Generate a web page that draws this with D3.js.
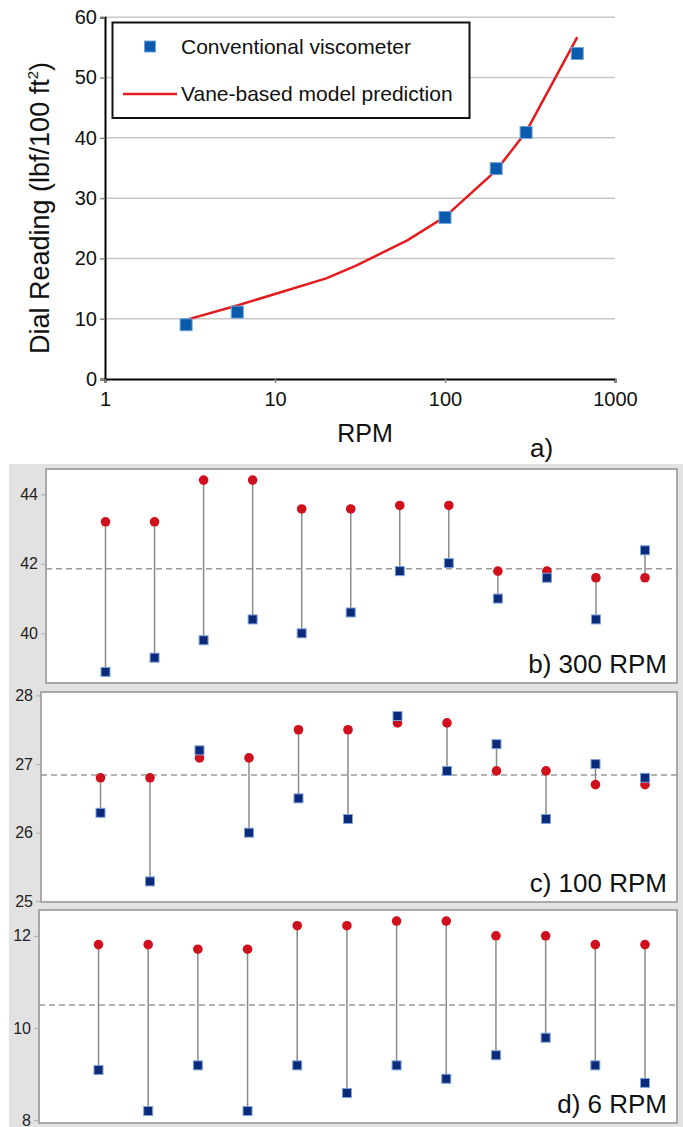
<!DOCTYPE html>
<html lang="en">
<head>
  <meta charset="UTF-8">
  <title>Dial reading vs RPM</title>
  <style>
    body { margin: 0; background: #fff; }
    svg { display: block; font-family: "Liberation Sans", Arial, sans-serif; }
  </style>
</head>
<body>
<div class="chart"></div>
<script src="https://d3js.org/d3.v7.min.js"></script>
<script>
  // a) dial reading vs rpm
  let rpm = [3, 6, 100, 200, 300, 600]
  let viscometer = [9.0, 11.1, 26.8, 34.9, 40.9, 54.0]
  let modelRpm = [3, 6, 10, 20, 30, 60, 100, 200, 300, 600]
  let modelPred = [9.8, 12.2, 14.1, 16.7, 18.8, 23.0, 26.9, 34.6, 41.0, 56.7]
  let xTicks = [1, 10, 100, 1000]
  let yTicks = [0, 10, 20, 30, 40, 50, 60]

  // b-d) samples 1..12, red = vane model, blue = viscometer
  let samples = [1, 2, 3, 4, 5, 6, 7, 8, 9, 10, 11, 12]
  let red300 = [43.21, 43.21, 44.41, 44.41, 43.58, 43.58, 43.68, 43.68, 41.79, 41.79, 41.6, 41.6]
  let blue300 = [38.89, 39.3, 39.8, 40.4, 40.0, 40.6, 41.79, 42.02, 41.0, 41.6, 40.4, 42.39]
  let red100 = [26.8, 26.8, 27.09, 27.09, 27.5, 27.5, 27.6, 27.6, 26.9, 26.9, 26.7, 26.7]
  let blue100 = [26.29, 25.29, 27.2, 26.0, 26.5, 26.2, 27.7, 26.9, 27.29, 26.2, 27.0, 26.8]
  let red6 = [11.81, 11.81, 11.71, 11.71, 12.22, 12.22, 12.32, 12.32, 12.0, 12.0, 11.81, 11.81]
  let blue6 = [9.09, 8.2, 9.19, 8.2, 9.19, 8.59, 9.19, 8.9, 9.41, 9.79, 9.19, 8.81]
  let means = [41.86, 26.84, 10.5]
  let panelTicks = [[40, 42, 44], [25, 26, 27, 28], [8, 10, 12]]
  let panelLabels = ['b) 300 RPM', 'c) 100 RPM', 'd) 6 RPM']

  let svg = d3.select('.chart').append('svg')
    .attr('width', 683)
    .attr('height', 1127)

  // ---------- top chart ----------
  let x = d3.scaleLog().domain([1, 1000]).range([105, 615])
  let y = d3.scaleLinear().domain([0, 60]).range([379, 17.3])

  svg.append('g').selectAll('line')
    .data(yTicks.slice(1))
    .enter().append('line')
    .attr('x1', x(1)).attr('x2', x(1000))
    .attr('y1', d => y(d)).attr('y2', d => y(d))
    .attr('stroke', '#c8c8c8').attr('stroke-width', 1.5)

  let yAxis = svg.append('g')
    .attr('transform', 'translate(' + x(1) + ',0)')
    .call(d3.axisLeft(y).tickValues(yTicks).tickSize(5).tickPadding(3))
  yAxis.select('.domain').attr('stroke', '#000').attr('stroke-width', 2)
  yAxis.selectAll('.tick line').attr('stroke', '#888').attr('stroke-width', 1.5)
  yAxis.selectAll('text').attr('font-size', 20).attr('fill', '#111')

  let xAxis = svg.append('g')
    .attr('transform', 'translate(0,' + y(0) + ')')
    .call(d3.axisBottom(x).tickValues(xTicks).tickFormat(d3.format('d')).tickSize(4).tickPadding(9))
  xAxis.select('.domain').attr('stroke', '#000').attr('stroke-width', 2)
  xAxis.selectAll('.tick line').attr('stroke', '#888').attr('stroke-width', 1.5)
  xAxis.selectAll('text').attr('font-size', 20).attr('fill', '#111')

  let line = d3.line()
    .x((d, i) => x(modelRpm[i]))
    .y(d => y(d))

  svg.append('path')
    .datum(modelPred)
    .attr('d', line)
    .attr('fill', 'none')
    .attr('stroke', '#e41a1c')
    .attr('stroke-width', 2.5)

  svg.append('g').selectAll('rect')
    .data(viscometer)
    .enter().append('rect')
    .attr('x', (d, i) => x(rpm[i]) - 6)
    .attr('y', d => y(d) - 6)
    .attr('width', 12).attr('height', 12)
    .attr('fill', '#0b5aab')
    .attr('stroke', '#6fa3da').attr('stroke-width', 1)

  // legend
  let lg = svg.append('g')
  lg.append('rect')
    .attr('x', 112.5).attr('y', 22.5).attr('width', 357).attr('height', 95.5)
    .attr('fill', '#fff').attr('stroke', '#111').attr('stroke-width', 2)
  lg.append('rect')
    .attr('x', 144.5).attr('y', 41).attr('width', 11).attr('height', 11)
    .attr('fill', '#0b5aab').attr('stroke', '#6fa3da').attr('stroke-width', 1)
  lg.append('line')
    .attr('x1', 123).attr('x2', 177).attr('y1', 94).attr('y2', 94)
    .attr('stroke', '#e41a1c').attr('stroke-width', 2.5)
  lg.append('text').attr('x', 181).attr('y', 54)
    .attr('font-size', 21).attr('fill', '#111').text('Conventional viscometer')
  lg.append('text').attr('x', 181).attr('y', 101)
    .attr('font-size', 21).attr('fill', '#111').text('Vane-based model prediction')

  svg.append('text')
    .attr('x', 365).attr('y', 442)
    .attr('text-anchor', 'middle').attr('font-size', 25).attr('fill', '#111')
    .text('RPM')
  svg.append('text')
    .attr('x', 530).attr('y', 457)
    .attr('font-size', 26).attr('fill', '#111')
    .text('a)')

  let yt = svg.append('text')
    .attr('transform', 'translate(49,208) rotate(-90)')
    .attr('text-anchor', 'middle').attr('font-size', 27).attr('fill', '#111')
  yt.append('tspan').text('Dial Reading (lbf/100 ft')
  yt.append('tspan').attr('font-size', 15).attr('dy', -11).text('2')
  yt.append('tspan').attr('dy', 11).text(')')

  // ---------- lower panels ----------
  svg.append('rect')
    .attr('x', 9).attr('y', 464).attr('width', 674).attr('height', 663)
    .attr('fill', '#e2e2e2')

  let panels = [
    {left: 46, top: 469, bottom: 683, dom: [38.57, 44.73], red: red300, blue: blue300},
    {left: 41, top: 692, bottom: 902, dom: [24.99, 28.05], red: red100, blue: blue100},
    {left: 39, top: 910, bottom: 1123, dom: [7.94, 12.56], red: red6, blue: blue6}
  ]
  let right = 677

  panels.forEach((p, k) => {
    let g = svg.append('g')
    let px = d3.scaleLinear().domain([1, 12]).range([p.left + 59.5, 645])
    let py = d3.scaleLinear().domain(p.dom).range([p.bottom, p.top])

    g.append('rect')
      .attr('x', p.left).attr('y', p.top)
      .attr('width', right - p.left).attr('height', p.bottom - p.top)
      .attr('fill', '#fff').attr('stroke', '#a8a8a8').attr('stroke-width', 2)

    let ax = g.append('g')
      .attr('transform', 'translate(' + (p.left - 1) + ',0)')
      .call(d3.axisLeft(py).tickValues(panelTicks[k]).tickFormat(d3.format('d')).tickSize(4).tickPadding(3))
    ax.select('.domain').remove()
    ax.selectAll('.tick line').attr('stroke', '#aaa')
    ax.selectAll('text').attr('font-size', 16).attr('fill', '#222')

    g.selectAll('line.stem')
      .data(samples)
      .enter().append('line')
      .attr('class', 'stem')
      .attr('x1', d => px(d)).attr('x2', d => px(d))
      .attr('y1', (d, i) => py(p.red[i])).attr('y2', (d, i) => py(p.blue[i]))
      .attr('stroke', '#8a8a8a').attr('stroke-width', 1.5)

    g.append('line')
      .attr('x1', p.left).attr('x2', right)
      .attr('y1', py(means[k])).attr('y2', py(means[k]))
      .attr('stroke', '#999').attr('stroke-width', 1.5)
      .attr('stroke-dasharray', '6,4')

    g.selectAll('circle')
      .data(p.red)
      .enter().append('circle')
      .attr('cx', (d, i) => px(samples[i]))
      .attr('cy', d => py(d))
      .attr('r', 4.8)
      .attr('fill', '#d0101c')

    g.selectAll('rect.sq')
      .data(p.blue)
      .enter().append('rect')
      .attr('class', 'sq')
      .attr('x', (d, i) => px(samples[i]) - 4.5)
      .attr('y', d => py(d) - 4.5)
      .attr('width', 9).attr('height', 9)
      .attr('fill', '#0c2a7a')
      .attr('stroke', '#7ea3d8').attr('stroke-width', 1)

    g.append('text')
      .attr('x', 667).attr('y', p.bottom - 10)
      .attr('text-anchor', 'end').attr('font-size', 26).attr('fill', '#111')
      .text(panelLabels[k])
  })
</script>
</body>
</html>
